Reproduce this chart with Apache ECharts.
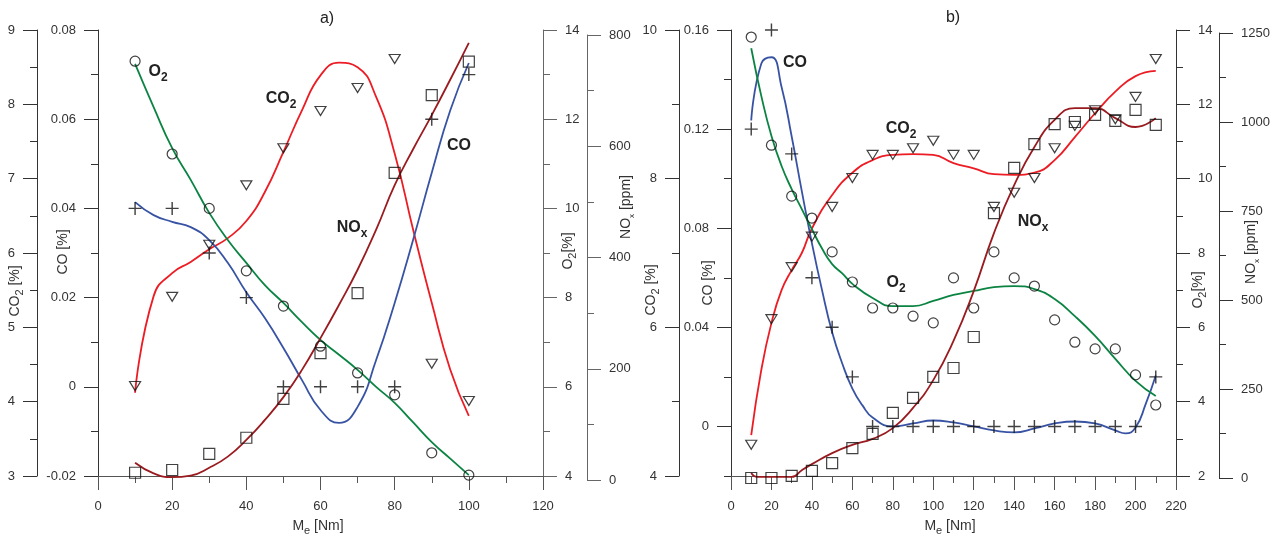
<!DOCTYPE html>
<html>
<head>
<meta charset="utf-8">
<script src="https://cdn.jsdelivr.net/npm/echarts/dist/echarts.min.js"></script>
<style>
  html, body { margin: 0; background: #fff; }
  #chart { width: 1277px; height: 536px; }
</style>
</head>
<body>
<div id="chart"></div>
<script>
  // ---- panel a) measured points ----
  const xA = [10, 20, 30, 40, 50, 60, 70, 80, 90, 100];
  const co2A = [4.21, 5.41, 6.11, 6.91, 7.41, 7.91, 8.22, 8.61, 4.51, 4.01];
  const coA = [0.04, 0.04, 0.03, 0.02, 0, 0, 0, 0, 0.06, 0.07];
  const o2A = [13.3, 11.22, 10.0, 8.6, 7.81, 6.91, 6.31, 5.82, 4.52, 4.02];
  const noxA = [13, 18, 47, 76, 146, 228, 336, 552, 692, 752];

  // ---- panel a) fitted curves ----
  const fitXA = [10, 15, 20, 25, 30, 35, 40, 45, 50, 55, 60, 65, 70, 75, 80, 85, 90, 95, 100];
  const co2FitA = [4.12, 5.42, 5.73, 5.88, 6.05, 6.2, 6.43, 6.82, 7.36, 7.92, 8.39, 8.56, 8.5, 8.1, 7.34, 6.31, 5.33, 4.43, 3.81];
  const coFitA = [0.0414, 0.0385, 0.037, 0.0358, 0.0329, 0.0278, 0.0212, 0.0154, 0.0087, 0.0015, -0.0052, -0.0081, -0.0045, 0.006, 0.0188, 0.033, 0.048, 0.062, 0.0726];
  const o2FitA = [13.24, 12.27, 11.35, 10.64, 9.9, 9.29, 8.78, 8.28, 7.88, 7.45, 7.05, 6.72, 6.38, 6.0, 5.64, 5.2, 4.76, 4.39, 4.02];
  const noxFitA = [31, 12, 5, 8, 22, 42, 72, 108, 149, 198, 255, 315, 378, 450, 530, 595, 656, 720, 786];

  // ---- panel b) measured points ----
  const xB = [10, 20, 30, 40, 50, 60, 70, 80, 90, 100, 110, 120, 130, 140, 150, 160, 170, 180, 190, 200, 210];
  const co2B = [4.42, 6.11, 6.81, 7.22, 7.62, 8.01, 8.32, 8.32, 8.41, 8.51, 8.32, 8.32, 7.62, 7.81, 8.01, 8.41, 8.71, 8.92, 8.80, 9.10, 9.61];
  const coB = [0.12, 0.16, 0.11, 0.06, 0.04, 0.02, 0, 0, 0, 0, 0, 0, 0, 0, 0, 0, 0, 0, 0, 0, 0.02];
  const o2B = [13.81, 10.9, 9.53, 8.94, 8.03, 7.22, 6.52, 6.52, 6.3, 6.12, 7.33, 6.52, 8.03, 7.33, 7.11, 6.2, 5.6, 5.42, 5.42, 4.72, 3.91];
  const noxB = [0, 0, 6, 20, 42, 84, 124, 183, 225, 284, 309, 396, 744, 871, 938, 994, 1000, 1020, 1003, 1034, 992];

  // ---- panel b) fitted curves ----
  const co2FitBX = [10, 15, 20, 25, 30, 35, 40, 50, 60, 70, 80, 90, 100, 110, 120, 130, 140, 150, 160, 170, 180, 190, 200, 210];
  const co2FitB = [4.55, 5.43, 6.06, 6.5, 6.77, 7.0, 7.33, 7.78, 8.08, 8.25, 8.32, 8.33, 8.32, 8.21, 8.14, 8.06, 8.05, 8.08, 8.25, 8.56, 8.88, 9.17, 9.38, 9.45];
  const coFitBX = [10, 15, 20, 25, 30, 35, 40, 45, 50, 55, 60, 65, 70, 80, 90, 100, 110, 120, 130, 140, 150, 160, 170, 180, 190, 195, 200, 205, 210];
  const coFitB = [0.1235, 0.1465, 0.149, 0.137, 0.117, 0.095, 0.074, 0.055, 0.038, 0.0254, 0.0153, 0.0085, 0.0036, 0, 0.0012, 0.0024, 0.0016, 0, -0.0016, -0.0024, -0.0008, 0.0012, 0.002, 0.0012, -0.0016, -0.0028, -0.0004, 0.009, 0.0206];
  const o2FitBX = [10, 15, 20, 25, 30, 35, 40, 45, 50, 55, 60, 70, 80, 90, 100, 110, 120, 130, 140, 150, 160, 170, 180, 190, 200, 210];
  const o2FitB = [13.51, 12.22, 11.15, 10.34, 9.72, 9.18, 8.64, 8.12, 7.7, 7.45, 7.17, 6.79, 6.57, 6.57, 6.71, 6.87, 6.98, 7.08, 7.11, 7.03, 6.76, 6.3, 5.77, 5.15, 4.56, 4.15];
  const noxFitBX = [10, 13, 20, 30, 35, 40, 50, 60, 70, 80, 90, 100, 110, 120, 130, 140, 150, 160, 170, 180, 190, 200, 210];
  const noxFitB = [14, 3, 3, 3, 22, 39, 70, 93, 110, 140, 197, 275, 385, 525, 688, 823, 930, 1006, 1039, 1039, 1011, 986, 1011];

  const FONT = '"Liberation Sans", Arial, sans-serif';
  const RED = '#ec1c24', BLUE = '#3853a4', GREEN = '#0b8443', BROWN = '#9a1b1f';
  const CROSS = 'path://M4.45,0H5.55V4.45H10V5.55H5.55V10H4.45V5.55H0V4.45H4.45Z';

  const pairs = (xs, ys) => xs.map((x, i) => [x, ys[i]]);
  const plain = v => String(Math.round(v * 10000) / 10000);

  function yAx(o) {
    const c = o.c || '#333';
    return {
      type: 'value', gridIndex: o.g, position: o.pos, offset: o.off || 0,
      min: o.min, max: o.max, interval: o.iv,
      axisLine: { show: o.line !== false, onZero: false, lineStyle: { color: c, width: 1 } },
      axisTick: { show: true, length: o.tick || 14, lineStyle: { color: c } },
      minorTick: { show: o.minor !== false, splitNumber: 2, length: 7, lineStyle: { color: c } },
      axisLabel: { show: o.label !== false, margin: 22, color: '#333', fontSize: 13, fontFamily: FONT, formatter: plain },
      splitLine: { show: false }, minorSplitLine: { show: false }
    };
  }
  function xAx(g, max, show) {
    return {
      type: 'value', gridIndex: g, position: 'bottom', min: 0, max: max, interval: 20, show: show,
      axisLine: { show: true, onZero: false, lineStyle: { color: '#555' } },
      axisTick: { show: true, length: 14, lineStyle: { color: '#555' } },
      minorTick: { show: true, splitNumber: 2, length: 7, lineStyle: { color: '#555' } },
      axisLabel: { margin: 24, color: '#333', fontSize: 13, fontFamily: FONT, formatter: plain },
      splitLine: { show: false }, minorSplitLine: { show: false }
    };
  }
  function curve(data, xi, yi, color) {
    return {
      type: 'line', xAxisIndex: xi, yAxisIndex: yi, data: data, smooth: 0.5,
      symbol: 'none', showSymbol: false, silent: true, z: 2,
      lineStyle: { color: color, width: 1.8 }, itemStyle: { color: color }
    };
  }
  function dots(data, xi, yi, kind) {
    const s = {
      type: 'scatter', xAxisIndex: xi, yAxisIndex: yi, data: data, silent: true, z: 3, clip: false,
      itemStyle: { color: 'rgba(0,0,0,0)', borderColor: '#111', borderWidth: 1.2 }
    };
    if (kind === 'tri') { s.symbol = 'triangle'; s.symbolRotate = 180; s.symbolSize = [11, 9]; }
    if (kind === 'circ') { s.symbol = 'circle'; s.symbolSize = 10; }
    if (kind === 'sq') { s.symbol = 'rect'; s.symbolSize = 11; }
    if (kind === 'cross') { s.symbol = CROSS; s.symbolSize = 13; s.itemStyle = { color: '#111', borderWidth: 0 }; }
    return s;
  }

  const richAxis = {
    n: { fontSize: 14, lineHeight: 20, fontFamily: FONT, fill: '#333' },
    s: { fontSize: 11, verticalAlign: 'bottom', fontFamily: FONT, fill: '#333' },
    t: { fontSize: 8, verticalAlign: 'bottom', fontFamily: FONT, fill: '#333' }
  };
  const richBold = {
    n: { fontSize: 16, fontWeight: 'bold', lineHeight: 24, fontFamily: FONT, fill: '#222' },
    s: { fontSize: 12, fontWeight: 'bold', verticalAlign: 'bottom', fontFamily: FONT, fill: '#222' }
  };
  function txt(x, y, text, rich, rot) {
    return {
      type: 'text', x: x, y: y, rotation: rot ? Math.PI / 2 : 0, silent: true,
      style: { text: text, rich: rich, align: 'center', verticalAlign: 'middle', fill: '#333' }
    };
  }

  const chart = echarts.init(document.getElementById('chart'), null, { renderer: 'canvas' });
  chart.setOption({
    backgroundColor: '#fff',
    animation: false,
    grid: [
      { left: 98, top: 30, width: 445, height: 446, outerBoundsMode: 'none' },
      { left: 98, top: 35, width: 445, height: 445, outerBoundsMode: 'none' },
      { left: 731, top: 30, width: 445, height: 446, outerBoundsMode: 'none' },
      { left: 731, top: 33, width: 445, height: 445, outerBoundsMode: 'none' },
      { left: 731, top: 30, width: 445, height: 396, outerBoundsMode: 'none' }
    ],
    xAxis: [xAx(0, 120, true), xAx(1, 120, false), xAx(2, 220, true), xAx(3, 220, false), xAx(4, 220, false)],
    yAxis: [
      yAx({ g: 0, pos: 'left', off: 61, min: 3, max: 9, iv: 1 }),
      yAx({ g: 0, pos: 'left', min: -0.02, max: 0.08, iv: 0.02 }),
      yAx({ g: 0, pos: 'right', min: 4, max: 14, iv: 2, c: '#666' }),
      yAx({ g: 1, pos: 'right', off: 44, min: 0, max: 800, iv: 200, c: '#666' }),
      yAx({ g: 2, pos: 'left', off: 52, min: 4, max: 10, iv: 2 }),
      yAx({ g: 2, pos: 'left', min: -0.02, max: 0.16, iv: 0.02, tick: 7, minor: false, label: false }),
      yAx({ g: 2, pos: 'right', min: 2, max: 14, iv: 2 }),
      yAx({ g: 3, pos: 'right', off: 43, min: 0, max: 1250, iv: 250 }),
      yAx({ g: 4, pos: 'left', min: 0, max: 0.16, iv: 0.04, minor: false, line: false })
    ],
    graphic: [
      txt(327, 19, '{n|a)}', { n: { fontSize: 16, fontFamily: FONT, fill: '#222' } }),
      txt(953, 18, '{n|b)}', { n: { fontSize: 16, fontFamily: FONT, fill: '#222' } }),
      txt(318, 526, '{n|M}{s|e}{n| [Nm]}', richAxis),
      txt(950, 526, '{n|M}{s|e}{n| [Nm]}', richAxis),
      txt(15, 291, '{n|CO}{s|2}{n| [%]}', richAxis, true),
      txt(63, 252, '{n|CO [%]}', richAxis, true),
      txt(568, 251, '{n|O}{s|2}{n|[%]}', richAxis, true),
      txt(626, 207, '{n|NO}{t|x}{n| [ppm]}', richAxis, true),
      txt(651, 290, '{n|CO}{s|2}{n| [%]}', richAxis, true),
      txt(708, 283, '{n|CO [%]}', richAxis, true),
      txt(1198, 290, '{n|O}{s|2}{n|[%]}', richAxis, true),
      txt(1251, 252, '{n|NO}{t|x}{n| [ppm]}', richAxis, true),
      txt(158, 72, '{n|O}{s|2}', richBold),
      txt(281, 99, '{n|CO}{s|2}', richBold),
      txt(459, 146, '{n|CO}', richBold),
      txt(352, 228, '{n|NO}{s|x}', richBold),
      txt(795, 63, '{n|CO}', richBold),
      txt(901, 129, '{n|CO}{s|2}', richBold),
      txt(896, 283, '{n|O}{s|2}', richBold),
      txt(1033, 222, '{n|NO}{s|x}', richBold)
    ],
    series: [
      curve(pairs(fitXA, co2FitA), 0, 0, RED),
      curve(pairs(fitXA, coFitA), 0, 1, BLUE),
      curve(pairs(fitXA, o2FitA), 0, 2, GREEN),
      curve(pairs(fitXA, noxFitA), 1, 3, BROWN),
      dots(pairs(xA, co2A), 0, 0, 'tri'),
      dots(pairs(xA, coA), 0, 1, 'cross'),
      dots(pairs(xA, o2A), 0, 2, 'circ'),
      dots(pairs(xA, noxA), 1, 3, 'sq'),

      curve(pairs(co2FitBX, co2FitB), 2, 4, RED),
      curve(pairs(coFitBX, coFitB), 2, 5, BLUE),
      curve(pairs(o2FitBX, o2FitB), 2, 6, GREEN),
      curve(pairs(noxFitBX, noxFitB), 3, 7, BROWN),
      dots(pairs(xB, co2B), 2, 4, 'tri'),
      dots(pairs(xB, coB), 2, 5, 'cross'),
      dots(pairs(xB, o2B), 2, 6, 'circ'),
      dots(pairs(xB, noxB), 3, 7, 'sq')
    ]
  });
</script>
</body>
</html>
